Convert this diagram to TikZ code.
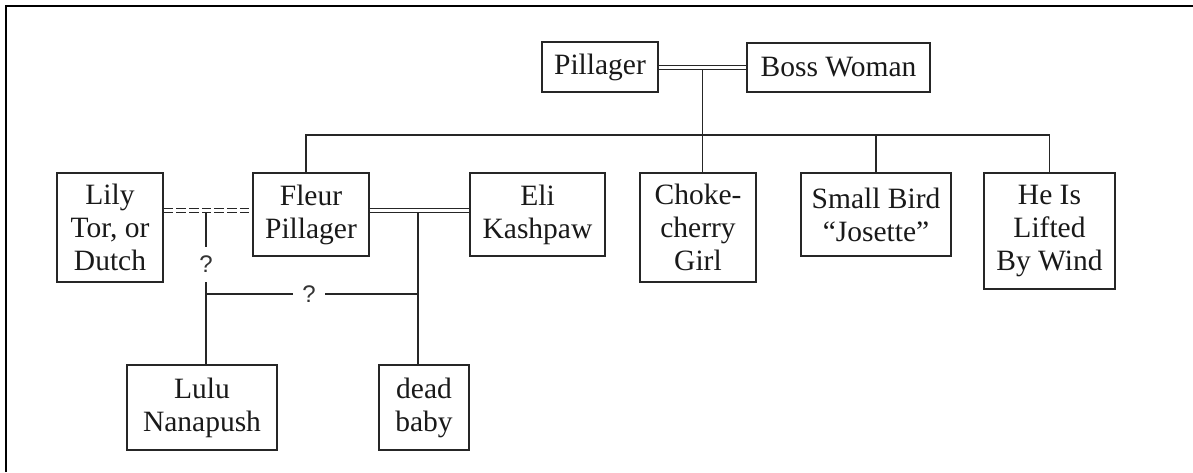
\documentclass[tikz,border=0pt]{standalone}
\usepackage{fontspec}
\setmainfont{Liberation Serif}
\setsansfont{Liberation Sans}
\begin{document}
\begin{tikzpicture}[x=1pt,y=-1pt,
  ln/.style={draw=black!85,line width=1.3pt},
  box/.style={ln,rectangle,inner sep=0pt,align=center,text=black!90,
    font=\fontsize{29.5}{33}\selectfont},
  dbl/.style={draw=black!85,line width=1.1pt,double=white,double distance=3pt},
  qm/.style={inner sep=0pt,text=black!80,font=\sffamily\fontsize{24}{26}\selectfont},
]
\useasboundingbox (0,0) rectangle (1193,472);
% frame
\draw[black,line width=2.6pt] (6,472) -- (6,6) -- (1193,6);

% nodes
\node[box,minimum width=116pt,minimum height=50pt] (p) at (600,67) {Pillager};
\node[box,minimum width=183pt,minimum height=49pt] (bw) at (838.5,67.5) {Boss Woman};
\node[box,minimum width=106pt,minimum height=109pt] (li) at (110,227.5) {Lily\\Tor, or\\Dutch};
\node[box,minimum width=116pt,minimum height=83pt] (fl) at (311,214.5) {Fleur\\Pillager};
\node[box,minimum width=135pt,minimum height=83pt] (el) at (537.5,214.5) {Eli\\Kashpaw};
\node[box,minimum width=116pt,minimum height=109pt] (ch) at (698,227.5) {Choke-\\cherry\\Girl};
\node[box,minimum width=150pt,minimum height=83pt] (sb) at (876,214.5) {Small Bird\\“Josette”};
\node[box,minimum width=131pt,minimum height=116pt] (he) at (1049.5,231) {He Is\\Lifted\\By Wind};
\node[box,minimum width=150pt,minimum height=85pt] (lu) at (202,407.5) {Lulu\\Nanapush};
\node[box,minimum width=90pt,minimum height=85pt] (db) at (424,407.5) {dead\\baby};

% Pillager = Boss Woman
\draw[dbl] (p.east |- 0,67.5) -- (bw.west |- 0,67.5);
\coordinate (u1) at (702.5,69.5);
\draw[ln] (u1) -- (u1 |- ch.north);
% sibling line
\coordinate (sL) at (306,135);
\coordinate (sR) at (he.north |- sL);
\draw[ln] (sL |- fl.north) -- (sL) -- (sR) -- (he.north);
\draw[ln] (sb.north |- sL) -- (sb.north);

% Lily - Fleur (dashed double)
\draw[dbl,dash pattern=on 9.5pt off 3.2pt] (li.east |- 0,210.5) -- (fl.west |- 0,210.5);
% Fleur = Eli
\draw[dbl] (fl.east |- 0,210.5) -- (el.west |- 0,210.5);

% Lily/Fleur child line with ?
\coordinate (q1) at (206,212.5);
\node[qm,minimum height=35pt] (qa) at (206,264.5) {?};
\draw[ln] (q1) -- (qa.north);
\draw[ln] (qa.south) -- (q1 |- lu.north);
\coordinate (hl) at (206,294);
\coordinate (m2) at (418,212.5);
\coordinate (hr) at (m2 |- hl);
\node[qm,minimum width=32pt] (qb) at (309,294) {?};
\draw[ln] (hl) -- (qb.west);
\draw[ln] (qb.east) -- (hr);
% Fleur/Eli child
\draw[ln] (m2) -- (m2 |- db.north);
\end{tikzpicture}
\end{document}
